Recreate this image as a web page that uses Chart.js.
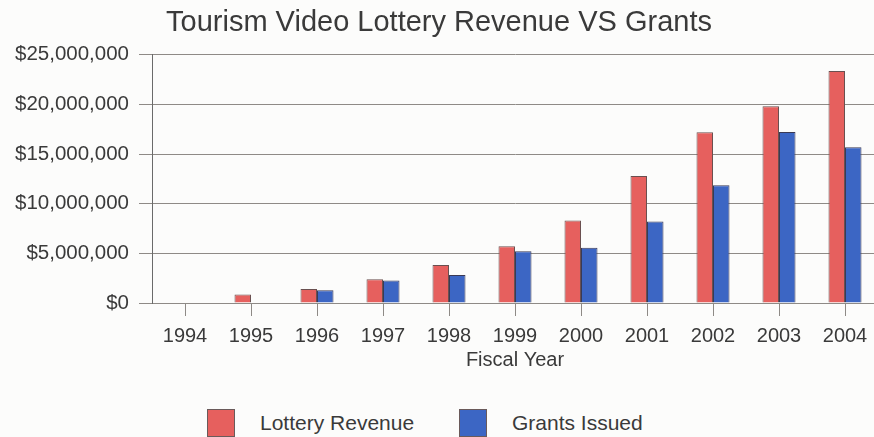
<!DOCTYPE html>
<html>
<head>
<meta charset="utf-8">
<script src="https://cdn.jsdelivr.net/npm/chart.js@4.4.1/dist/chart.umd.min.js"></script>
<style>
  html, body { margin: 0; padding: 0; background: #fcfcfb; overflow: hidden; }
  #wrap { position: relative; width: 874px; height: 437px; overflow: hidden; }
  #chart { position: absolute; left: 0; top: 0; }
  #legend { position: absolute; left: 0; top: 409px; width: 874px; height: 28px; font-family: "Liberation Sans", Arial, sans-serif; font-size: 21px; color: #3a3a3a; }
  .item { position: absolute; top: 0; height: 28px; line-height: 28px; }
  .swatch { position: absolute; top: 0; width: 26px; height: 26px; border: 1px solid #6a5a5a; }
  .label { position: absolute; top: 0; white-space: nowrap; }
</style>
</head>
<body>
<div id="wrap">
  <canvas id="chart" width="884" height="372"></canvas>
  <div id="legend"></div>
</div>
<script>
const years = ["1994", "1995", "1996", "1997", "1998", "1999", "2000", "2001", "2002", "2003", "2004"]
const lotteryRevenue = [60000, 850000, 1420000, 2400000, 3820000, 5710000, 8310000, 12800000, 17190000, 19830000, 23370000]
const grantsIssued = [0, 0, 1290000, 2270000, 2810000, 5210000, 5570000, 8210000, 11850000, 17220000, 15700000]
const yTicks = [0, 5000000, 10000000, 15000000, 20000000, 25000000]

const red = "#e6605e"
const blue = "#3c66c4"
const textColor = "#3a3a3a"
const gridColor = "#8e8a86"
const font = "'Liberation Sans', Arial, sans-serif"

function money(v) {
  return "$" + Number(v).toLocaleString("en-US")
}

const chart = new Chart(document.getElementById("chart"), {
  type: "bar",
  data: {
    labels: years,
    datasets: [
      { label: "Lottery Revenue", data: lotteryRevenue, backgroundColor: red, borderColor: "#6a5050", borderWidth: 1 },
      { label: "Grants Issued", data: grantsIssued, backgroundColor: blue, borderColor: "#3a3a55", borderWidth: 1 }
    ]
  },
  options: {
    responsive: false,
    animation: false,
    devicePixelRatio: 1,
    layout: { padding: { left: 0, right: 6, top: 0, bottom: 0 } },
    datasets: { bar: { categoryPercentage: 0.5, barPercentage: 1.0 } },
    plugins: {
      legend: { display: false },
      tooltip: { enabled: false },
      title: {
        display: true,
        text: "Tourism Video Lottery Revenue VS Grants",
        color: textColor,
        font: { family: font, size: 29, weight: "normal" },
        padding: { top: 6, bottom: 14 }
      }
    },
    scales: {
      x: {
        grid: { display: true, offset: false, drawOnChartArea: false, drawTicks: true, tickLength: 13, color: gridColor },
        border: { display: false },
        ticks: { color: textColor, font: { family: font, size: 20 }, padding: 8, maxRotation: 0 },
        title: { display: true, text: "Fiscal Year", color: textColor, font: { family: font, size: 20 }, padding: { top: -8, bottom: 0 } }
      },
      y: {
        min: 0,
        max: 25000000,
        afterFit: (scale) => { scale.width = 152 },
        afterBuildTicks: (scale) => { scale.ticks = yTicks.map(v => ({ value: v })) },
        grid: { color: gridColor, lineWidth: 1, drawTicks: true, tickLength: 13 },
        border: { display: true, color: "#6a6a6a", width: 1 },
        ticks: { color: textColor, font: { family: font, size: 20.5 }, padding: 10, callback: (v) => money(v) }
      }
    }
  }
})

// html legend, laid out like the printed one
const legend = document.getElementById("legend")
const legendPos = [207, 459]
chart.data.datasets.forEach((ds, i) => {
  const item = document.createElement("div")
  item.className = "item"
  item.style.left = legendPos[i] + "px"
  const sw = document.createElement("span")
  sw.className = "swatch"
  sw.style.left = "0px"
  sw.style.backgroundColor = ds.backgroundColor
  const label = document.createElement("span")
  label.className = "label"
  label.style.left = "53px"
  label.textContent = ds.label
  item.append(sw, label)
  legend.appendChild(item)
})
</script>
</body>
</html>
